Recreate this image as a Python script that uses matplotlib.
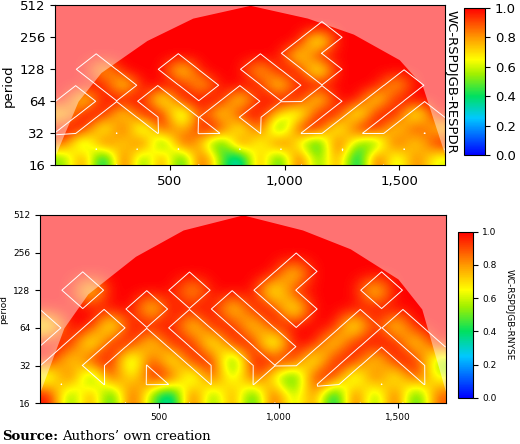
import matplotlib
matplotlib.use("Agg")
import matplotlib.pyplot as plt
from matplotlib.colors import LinearSegmentedColormap
import numpy as np

period_ticks = [16, 32, 64, 128, 256, 512]
row_log2p = [4.0, 4.5, 5.0, 5.5, 6.0, 6.5, 7.0, 7.5, 8.0, 8.5, 9.0]
time_range = [0, 1700]
xticks = [500, 1000, 1500]
xticklabels = ["500", "1,000", "1,500"]

top_field = [
 [0.5,0.9,0.2,1.0,0.4,0.9,0.3,1.0,0.5,0.2,0.9,0.3,1.0,0.4,0.9,0.2,1.0,0.5,0.9,0.6],
 [0.9,0.4,1.0,0.6,1.0,0.3,1.0,0.7,0.3,1.0,0.5,1.0,0.6,0.3,1.0,0.5,0.4,1.0,0.6,1.0],
 [1.0,1.0,0.5,1.0,0.4,1.0,0.7,1.0,1.0,0.5,1.0,0.3,1.0,1.0,0.5,1.0,1.0,0.6,1.0,0.7],
 [0.7,1.0,1.0,0.6,1.0,1.0,0.4,1.0,0.6,1.0,1.0,0.7,0.5,1.0,1.0,0.5,1.0,1.0,0.5,1.0],
 [1.0,0.6,1.0,1.0,1.0,0.5,1.0,1.0,1.0,0.6,1.0,1.0,1.0,0.6,1.0,1.0,0.6,1.0,1.0,1.0],
 [1.0,1.0,1.0,0.6,1.0,1.0,1.0,0.7,1.0,1.0,1.0,0.6,1.0,1.0,1.0,1.0,1.0,0.7,1.0,1.0],
 [1.0,1.0,0.7,1.0,1.0,1.0,0.6,1.0,1.0,1.0,0.7,1.0,1.0,0.5,1.0,1.0,1.0,1.0,1.0,1.0],
 [1.0,1.0,1.0,1.0,1.0,1.0,1.0,1.0,1.0,1.0,1.0,1.0,0.6,1.0,1.0,1.0,1.0,1.0,1.0,1.0],
 [1.0,1.0,1.0,1.0,1.0,1.0,1.0,1.0,1.0,1.0,1.0,1.0,1.0,0.5,1.0,1.0,1.0,1.0,1.0,1.0],
 [1.0,1.0,1.0,1.0,1.0,1.0,1.0,1.0,1.0,1.0,1.0,1.0,1.0,1.0,1.0,1.0,1.0,1.0,1.0,1.0],
 [1.0,1.0,1.0,1.0,1.0,1.0,1.0,1.0,1.0,1.0,1.0,1.0,1.0,1.0,1.0,1.0,1.0,1.0,1.0,1.0],
]
bottom_field = [
 [1.0,0.4,0.9,0.3,1.0,0.5,0.2,1.0,0.4,0.9,0.3,1.0,0.5,0.9,0.2,1.0,0.4,1.0,0.3,0.9],
 [0.5,1.0,0.3,1.0,0.6,1.0,1.0,0.4,1.0,0.5,1.0,0.6,0.3,1.0,1.0,0.4,1.0,0.5,1.0,0.6],
 [1.0,0.6,1.0,1.0,0.4,1.0,0.5,1.0,1.0,0.3,1.0,1.0,1.0,0.5,1.0,1.0,0.6,1.0,1.0,0.5],
 [1.0,1.0,0.5,1.0,1.0,0.6,1.0,1.0,0.5,1.0,1.0,0.4,1.0,1.0,0.6,1.0,1.0,1.0,0.6,1.0],
 [0.6,1.0,1.0,0.5,1.0,1.0,1.0,0.6,1.0,1.0,0.6,1.0,1.0,1.0,1.0,0.5,1.0,0.6,1.0,1.0],
 [1.0,1.0,1.0,1.0,1.0,0.6,1.0,1.0,1.0,0.6,1.0,1.0,0.5,1.0,1.0,1.0,1.0,1.0,1.0,1.0],
 [1.0,1.0,0.6,1.0,1.0,1.0,1.0,0.7,1.0,1.0,1.0,0.5,1.0,1.0,1.0,1.0,0.6,1.0,1.0,1.0],
 [1.0,1.0,1.0,1.0,1.0,1.0,1.0,1.0,1.0,1.0,1.0,1.0,0.6,1.0,1.0,1.0,1.0,1.0,1.0,1.0],
 [1.0,1.0,1.0,1.0,1.0,1.0,1.0,1.0,1.0,1.0,1.0,1.0,1.0,1.0,1.0,1.0,1.0,1.0,1.0,1.0],
 [1.0,1.0,1.0,1.0,1.0,1.0,1.0,1.0,1.0,1.0,1.0,1.0,1.0,1.0,1.0,1.0,1.0,1.0,1.0,1.0],
 [1.0,1.0,1.0,1.0,1.0,1.0,1.0,1.0,1.0,1.0,1.0,1.0,1.0,1.0,1.0,1.0,1.0,1.0,1.0,1.0],
]
coi_x = [0, 100, 200, 400, 600, 850, 1100, 1300, 1500, 1600, 1700]
coi_log2p = [4.3, 6.0, 6.9, 7.9, 8.6, 9.0, 8.6, 8.1, 7.3, 6.5, 4.3]

cmap = LinearSegmentedColormap.from_list("wc", [
    (0.0, "#0000ff"), (0.25, "#00c8ff"), (0.4, "#00e060"), (0.55, "#a0f000"),
    (0.65, "#ffff00"), (0.8, "#ff9900"), (1.0, "#ff0000")])

fig = plt.figure(figsize=(5.2, 4.44), dpi=100)

def panel(ax_rect, cax_rect, field, label, fs, label_left):
    ax = fig.add_axes(ax_rect)
    Z = np.array(field)
    lp = np.array(row_log2p)
    ax.imshow(Z, origin="lower", aspect="auto", cmap=cmap, vmin=0, vmax=1,
              extent=[time_range[0], time_range[1], lp[0], lp[-1]], interpolation="bicubic")
    xs = np.linspace(time_range[0], time_range[1], Z.shape[1])
    ax.contour(xs, lp, Z, levels=[0.99], colors="white", linewidths=0.7)
    ax.fill_between(coi_x, coi_log2p, lp[-1], color="white", alpha=0.45, lw=0)
    ax.set_xlim(time_range); ax.set_ylim(lp[0], lp[-1])
    ax.set_yticks(np.log2(period_ticks)); ax.set_yticklabels([str(p) for p in period_ticks], fontsize=fs)
    ax.set_xticks(xticks); ax.set_xticklabels(xticklabels, fontsize=fs)
    ax.set_ylabel("period", fontsize=fs)
    cax = fig.add_axes(cax_rect)
    sm = matplotlib.cm.ScalarMappable(cmap=cmap, norm=plt.Normalize(0, 1))
    cb = fig.colorbar(sm, cax=cax, ticks=[0, 0.2, 0.4, 0.6, 0.8, 1.0])
    cb.ax.set_yticklabels(["0.0", "0.2", "0.4", "0.6", "0.8", "1.0"], fontsize=fs)
    if label_left:
        fig.text(cax_rect[0] - 0.025, cax_rect[1] + cax_rect[3] / 2, label, rotation=270,
                 fontsize=fs, ha="center", va="center")
    else:
        cb.set_label(label, rotation=270, fontsize=fs, labelpad=12)
    return ax

panel([0.106, 0.628, 0.75, 0.36], [0.893, 0.651, 0.04, 0.331], top_field,
      "WC-RSPDJGB-RESPDR", 9.5, True)
panel([0.077, 0.092, 0.78, 0.424], [0.88, 0.104, 0.029, 0.374], bottom_field,
      "WC-RSPDJGB-RNYSE", 6.5, False)

fig.text(0.005, 0.01, "Source:", fontsize=9.5, fontweight="bold", family="DejaVu Serif")
fig.text(0.12, 0.01, "Authors\u2019 own creation", fontsize=9.5, family="DejaVu Serif")
fig.savefig("out.png", dpi=100)
